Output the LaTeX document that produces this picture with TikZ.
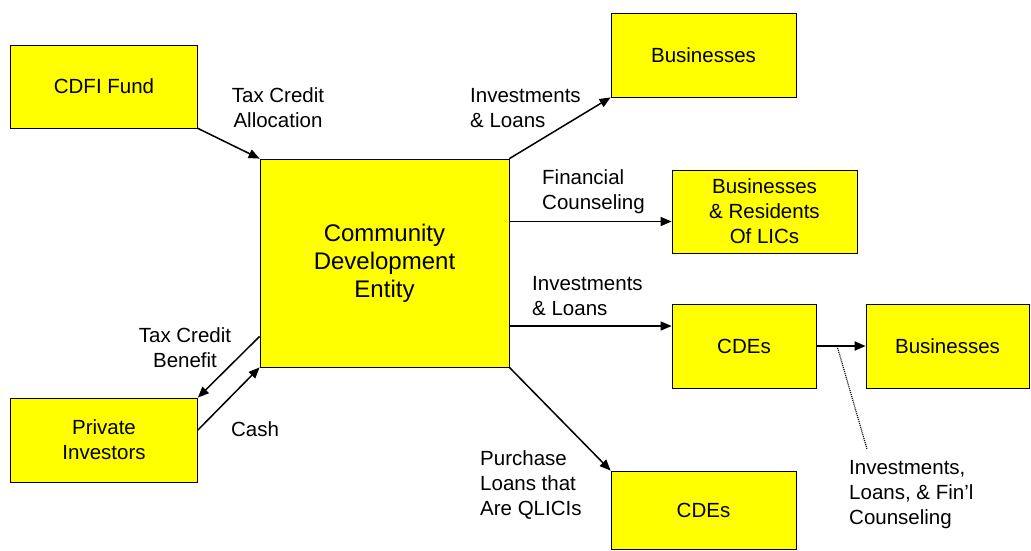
\documentclass[tikz,border=0pt]{standalone}
\usepackage{fontspec}
\setmainfont{Liberation Sans}
\usetikzlibrary{calc,arrows.meta,positioning}

\definecolor{boxyellow}{RGB}{255,255,0}
\tikzset{
  box/.style={draw=black, fill=boxyellow, line width=0.8pt, inner sep=0pt, align=center,
    font=\fontsize{20.5}{25}\selectfont},
  lbl/.style={inner sep=0pt, font=\fontsize{20.5}{25}\selectfont},
  flow/.style={line width=1.5pt, -{Triangle[length=11pt,width=9pt]}},
}

\begin{document}
\begin{tikzpicture}[x=1pt,y=-1pt]
        \useasboundingbox (0,0) rectangle (1031,550);
        \node[box, minimum width=187pt, minimum height=83pt] (cdfi) at (104,86.5) {CDFI Fund};
        \node[box, minimum width=249pt, minimum height=208pt,
              font=\fontsize{24}{28}\selectfont] (cde) at (384.5,263) {Community\\Development\\Entity};
        \node[box, minimum width=187pt, minimum height=84pt] (privinv) at (104,440) {Private\\Investors};
        \node[box, minimum width=185pt, minimum height=84pt] (bizTop) at (703.5,55) {Businesses};
        \node[box, minimum width=185pt, minimum height=83pt] (bizRes) at (764.5,211.5) {Businesses\\\& Residents\\Of LICs};
        \node[box, minimum width=144pt, minimum height=84pt] (cdesMid) at (744,346) {CDEs};
        \node[box, minimum width=163pt, minimum height=84pt] (bizRight) at (947.5,346) {Businesses};
        \node[box, minimum width=185pt, minimum height=78pt] (cdesLow) at (703.5,510) {CDEs};

        \coordinate (cFin) at ([yshift=-10pt]bizRes.west);
        \coordinate (cInv) at ([yshift=20pt]cdesMid.west);
        \coordinate (cDotA) at ($(cdesMid.east)!0.42!(bizRight.west)$);
        \coordinate (cDotB) at (867,449);

        \draw[flow] (cdfi.south east) -- (cde.north west);
        \draw[flow] ([yshift=31pt]cde.south west) -- (privinv.north east);
        \draw[flow] ([yshift=10pt]privinv.east) -- (cde.south west);
        \draw[flow] (cde.north east) -- (bizTop.south west);
        \draw[flow] (cde.east |- cFin) -- (cFin);
        \draw[flow] (cde.east |- cInv) -- (cInv);
        \draw[flow] (cde.south east) -- (cdesLow.north west);
        \draw[flow, line width=2pt] (cdesMid.east) -- (bizRight.west);
        \draw[line width=1.2pt, dash pattern=on 1pt off 1pt] (cDotA) -- (cDotB);

        \node[lbl, align=center] (lAlloc) at (278,108) {Tax Credit\\Allocation};
        \node[lbl, align=left, anchor=west] (lInvTop) at (470,108) {Investments\\\& Loans};
        \node[lbl, align=left, anchor=west] (lFin) at (542,191.5) {Financial\\Counseling};
        \node[lbl, align=left, anchor=west] (lInvMid) at (532,296) {Investments\\\& Loans};
        \node[lbl, align=center] (lBenefit) at (185,347.5) {Tax Credit\\Benefit};
        \node[lbl] (lCash) at (255,429) {Cash};
        \node[lbl, align=left, anchor=west] (lQlici) at (480,485) {Purchase\\Loans that\\Are QLICIs};
        \node[lbl, align=left, anchor=west] (lFinl) at (849,495) {Investments,\\Loans, \& Fin’l\\Counseling};
\end{tikzpicture}
\end{document}
